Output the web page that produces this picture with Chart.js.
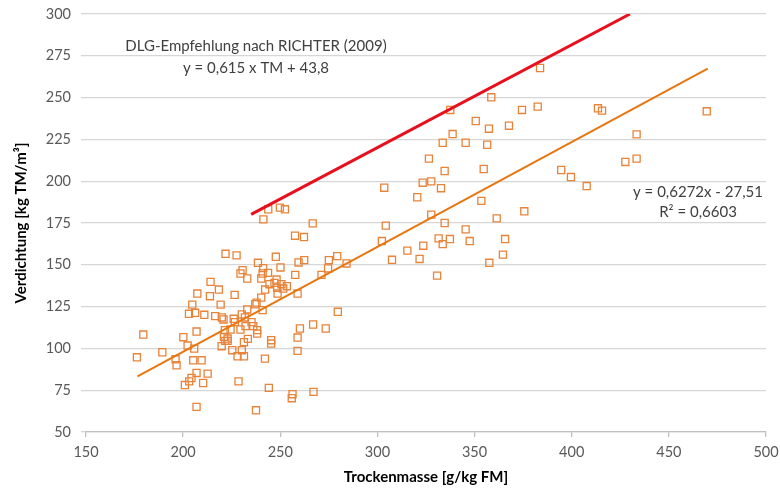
<!DOCTYPE html>
<html>
<head>
<meta charset="utf-8">
<script src="https://cdn.jsdelivr.net/npm/chart.js@4/dist/chart.umd.min.js"></script>
<style>
  html, body { margin: 0; padding: 0; background: #fff; }
  #wrap { width: 780px; height: 489px; position: relative; }
</style>
</head>
<body>
<div id="wrap"><canvas id="c" width="780" height="489"></canvas></div>
<script>
// ---- Data ----
const tmValues = [
  176.2,179.5,189.3,196.6,196.1,200.1,200.9,202.3,203.0,204.7,203.1,204.3,205.7,206.2,206.9,206.9,206.9,207.3,205.2,209.5,
  210.3,210.9,212.6,213.8,214.1,216.5,218.4,219.3,219.9,219.8,220.8,221.0,221.5,221.8,221.7,222.9,222.9,224.4,225.3,226.5,
  226.0,226.6,227.5,228.5,228.0,229.5,229.5,230.2,230.6,230.2,231.3,231.3,232.1,233.0,233.0,233.3,231.8,235.2,236.1,237.5,
  237.1,237.8,238.1,238.1,238.5,240.2,240.2,240.9,240.9,241.2,242.2,242.1,243.7,244.1,244.4,245.3,245.3,247.0,247.7,248.1,
  248.6,248.4,250.1,250.6,251.5,253.4,256.3,255.9,257.7,258.9,258.9,258.9,259.4,260.1,262.3,266.9,267.1,271.2,273.4,274.6,
  275.0,279.3,279.6,284.1,
  241.3,243.8,249.8,252.4,266.7,257.6,262.2,
  383.7,337.5,358.6,374.4,382.5,413.5,415.6,469.5,350.6,357.4,367.7,338.7,333.6,345.4,356.5,433.4,326.5,334.6,354.7,427.6,
  433.4,323.3,327.7,332.7,394.6,399.6,407.7,320.5,353.5,327.7,375.6,361.4,334.6,345.4,331.5,337.3,347.5,365.7,333.6,323.6,
  315.4,303.5,304.3,302.3,307.5,321.7,357.6,364.6,330.7
];
const verdichtungValues = [
  94.7,108.3,97.7,89.9,93.5,106.7,78.1,101.7,120.7,126.2,80.3,82.3,99.9,121.3,110.1,85.3,65.0,132.8,92.9,92.9,
  79.3,120.1,84.9,131.2,139.8,119.3,135.2,126.2,118.5,101.3,117.3,106.9,110.9,156.6,104.5,104.5,105.9,111.3,98.9,132.0,
  117.7,115.7,155.6,80.3,95.3,111.3,144.8,98.9,146.8,120.3,95.3,103.7,113.3,141.8,123.3,105.7,118.5,115.7,113.3,63.0,
  126.4,127.4,110.9,108.9,151.2,130.4,141.8,144.8,122.9,148.0,135.2,93.9,145.2,76.4,138.4,104.9,102.9,139.2,154.8,141.2,
  132.8,136.2,148.4,138.4,135.8,137.2,72.6,70.2,144.0,132.8,106.5,98.5,151.4,111.9,152.8,114.3,74.0,144.0,111.9,147.8,
  152.8,155.2,121.9,150.8,
  177.2,183.2,184.2,183.2,174.8,167.4,166.6,
  267.7,242.6,250.2,242.6,244.6,243.6,242.2,241.8,236.0,231.4,233.2,228.2,223.0,223.0,221.8,228.0,213.5,206.1,207.3,211.5,
  213.5,199.1,199.9,195.8,206.7,202.5,197.1,190.4,188.2,180.0,182.0,177.8,175.0,171.2,165.8,165.4,164.2,165.4,162.4,161.4,
  158.5,196.1,173.4,164.2,153.0,153.5,151.2,156.1,143.5
];
// Linear trend line (y = 0,6272x - 27,51), endpoints as drawn
const trendX = [176.5, 470];
const trendY = [83.2, 267.3];
// DLG recommendation line, endpoints as drawn
const dlgX = [235, 430];
const dlgY = [180.2, 300];
// Axis ticks
const xTicks = [150, 200, 250, 300, 350, 400, 450, 500];
const yTicks = [50, 75, 100, 125, 150, 175, 200, 225, 250, 275, 300];
// Texts
const xTitle = 'Trockenmasse [g/kg FM]';
const yTitle = 'Verdichtung [kg TM/m³]';
const dlgLabel = ['DLG-Empfehlung nach RICHTER (2009)', 'y = 0,615 x TM + 43,8'];
const trendLabel = ['y = 0,6272x - 27,51', 'R² = 0,6603'];

const FONT = 'Lato, "Open Sans", sans-serif';
const GRAY = '#595959';

const textPlugin = {
  id: 'texts',
  afterDatasetsDraw(chart) {
    const {ctx, scales: {x, y}} = chart;
    ctx.save();
    ctx.fillStyle = '#404040';
    ctx.font = '15px ' + FONT;
    ctx.textAlign = 'center';
    ctx.textBaseline = 'middle';
    ctx.fillText(dlgLabel[0], x.getPixelForValue(237.5), y.getPixelForValue(280.5));
    ctx.fillText(dlgLabel[1], x.getPixelForValue(237.5), y.getPixelForValue(267.5));
    ctx.fillText(trendLabel[0], x.getPixelForValue(465), y.getPixelForValue(193.5));
    ctx.fillText(trendLabel[1], x.getPixelForValue(465), y.getPixelForValue(181.5));
    ctx.restore();
  }
};

new Chart(document.getElementById('c'), {
  type: 'scatter',
  data: {
    datasets: [
      {
        label: 'Messwerte',
        data: tmValues.map((v, i) => ({x: v, y: verdichtungValues[i]})),
        pointStyle: 'rect',
        pointRadius: 5,
        pointBorderWidth: 1.3,
        pointBorderColor: '#E8833A',
        pointBackgroundColor: 'rgba(255,255,255,0)',
        showLine: false,
        order: 3
      },
      {
        label: 'Trend',
        data: trendX.map((v, i) => ({x: v, y: trendY[i]})),
        showLine: true,
        borderColor: '#E8760F',
        borderWidth: 2,
        pointRadius: 0,
        order: 2
      },
      {
        label: 'DLG',
        data: dlgX.map((v, i) => ({x: v, y: dlgY[i]})),
        showLine: true,
        borderColor: '#E8101E',
        borderWidth: 3,
        pointRadius: 0,
        order: 1
      }
    ]
  },
  options: {
    responsive: false,
    animation: false,
    layout: { padding: { left: 0, right: 14, top: 14, bottom: 0 } },
    plugins: { legend: { display: false }, tooltip: { enabled: false } },
    scales: {
      x: {
        type: 'linear',
        min: xTicks[0], max: xTicks[xTicks.length - 1],
        afterBuildTicks: s => { s.ticks = xTicks.map(v => ({value: v})); },
        afterFit: s => { s.height = 57; s.paddingLeft = 0; s.paddingRight = 0; },
        grid: { drawOnChartArea: false, drawTicks: true, tickLength: 5, color: '#bfbfbf', lineWidth: 1.3 },
        border: { display: true, color: '#bfbfbf', width: 1.3 },
        ticks: { color: GRAY, font: { family: FONT, size: 14.5 }, padding: 7, maxRotation: 0 },
        title: { display: true, text: xTitle, color: '#000', font: { family: FONT, size: 15, weight: 'bold' }, padding: { top: 2, bottom: 3 } }
      },
      y: {
        type: 'linear',
        min: yTicks[0], max: yTicks[yTicks.length - 1],
        afterBuildTicks: s => { s.ticks = yTicks.map(v => ({value: v})); },
        afterFit: s => { s.width = 86; s.paddingTop = 0; s.paddingBottom = 0; },
        grid: { drawTicks: true, tickLength: 5, color: '#d6d6d6', lineWidth: 1.3 },
        border: { display: false },
        ticks: { color: GRAY, font: { family: FONT, size: 14.5 }, padding: 10 },
        title: { display: true, text: yTitle, color: '#000', font: { family: FONT, size: 15, weight: 'bold' }, padding: { top: 12, bottom: 0 } }
      }
    }
  },
  plugins: [textPlugin]
});
</script>
</body>
</html>
